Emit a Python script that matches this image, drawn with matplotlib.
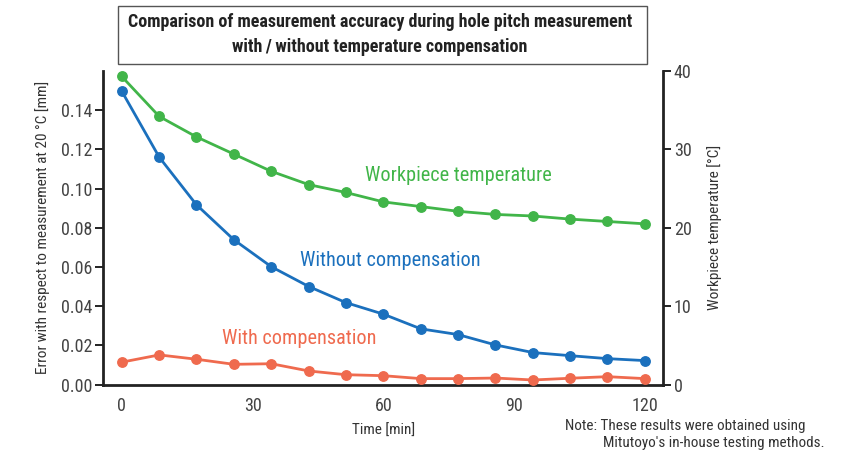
import matplotlib
matplotlib.use("Agg")
import matplotlib.pyplot as plt
from matplotlib import font_manager
from matplotlib.patches import Rectangle

# ---- data ----
time_min = [0, 8.6, 17.1, 25.7, 34.3, 42.9, 51.4, 60, 68.6, 77.1, 85.7, 94.3, 102.9, 111.4, 120]
without_comp = [0.1497, 0.1160, 0.0918, 0.0739, 0.0601, 0.0500, 0.0418, 0.0359,
                0.0284, 0.0255, 0.0202, 0.0163, 0.0147, 0.0132, 0.0122]
with_comp = [0.0114, 0.0151, 0.0129, 0.0103, 0.0106, 0.0069, 0.0050, 0.0045,
             0.0030, 0.0030, 0.0033, 0.0023, 0.0032, 0.0040, 0.0030]
workpiece_temp = [39.3, 34.2, 31.6, 29.4, 27.2, 25.5, 24.5, 23.3, 22.7, 22.1,
                  21.7, 21.5, 21.1, 20.8, 20.5]
x_ticks = [0, 30, 60, 90, 120]
y_ticks = [0.00, 0.02, 0.04, 0.06, 0.08, 0.10, 0.12, 0.14]
y2_ticks = [0, 10, 20, 30, 40]

# ---- fonts ----
avail = {f.name for f in font_manager.fontManager.ttflist}
fam = None
for cand in ["Liberation Sans Narrow", "Roboto Condensed", "Open Sans Condensed", "Noto Sans"]:
    if cand in avail:
        fam = cand
        break
if fam is None:
    fam = "DejaVu Sans"
plt.rcParams['font.family'] = [fam, 'DejaVu Sans']

GREEN = "#41b549"
BLUE = "#1b70bd"
ORANGE = "#ef6a4e"
TXT = "#333333"
SPINE = "#222222"

W, H = 843, 455
fig = plt.figure(figsize=(W / 100, H / 100), dpi=100)
L, R, T, B = 103, 663.3, 71, 384.5
ax = fig.add_axes([L / W, 1 - B / H, (R - L) / W, (B - T) / H])
ax2 = ax.twinx()
ax2.patch.set_visible(False)

ax.set_xlim(-4.3, 124.2)
ax.set_ylim(0, 0.16)
ax2.set_ylim(0, 40)

lw = 2.0
ms = 6.8
ax.plot(time_min, without_comp, color=BLUE, lw=lw, marker='o', ms=ms, zorder=3)
ax.plot(time_min, with_comp, color=ORANGE, lw=lw, marker='o', ms=ms, zorder=3)
ax2.plot(time_min, workpiece_temp, color=GREEN, lw=lw, marker='o', ms=ms, zorder=3)

for a in (ax, ax2):
    for s in a.spines.values():
        s.set_visible(False)
ax.spines['left'].set_visible(True)
ax.spines['bottom'].set_visible(True)
ax2.spines['right'].set_visible(True)
for s in (ax.spines['left'], ax.spines['bottom'], ax2.spines['right']):
    s.set_color(SPINE)
    s.set_linewidth(2.0)

ax.set_xticks(x_ticks)
ax.set_xticklabels([str(v) for v in x_ticks])
ax.set_yticks(y_ticks)
ax.set_yticklabels([f"{v:.2f}" for v in y_ticks])
ax2.set_yticks(y2_ticks)
ax2.set_yticklabels([str(v) for v in y2_ticks])

ax.tick_params(axis='x', length=0, pad=9, labelsize=13, labelcolor="#444444")
ax.tick_params(axis='y', direction='out', length=6, width=1.4, color=SPINE,
               pad=1.5, labelsize=13, labelcolor="#444444")
ax2.tick_params(axis='y', direction='out', length=6, width=1.4, color=SPINE,
                pad=1.5, labelsize=13, labelcolor="#444444")

ax.set_xlabel("Time [min]", fontsize=11, color=TXT, labelpad=6)
ax.set_ylabel("Error with respect to measurement at 20 °C [mm]", fontsize=11,
              color=TXT, labelpad=8)
ax2.set_ylabel("Workpiece temperature [°C]", fontsize=11, color=TXT, labelpad=11)

# series labels
ax.text(55.7, 0.1066, "Workpiece temperature", color=GREEN, fontsize=14.6,
        ha='left', va='center')
ax.text(40.8, 0.0631, "Without compensation", color=BLUE, fontsize=14.6,
        ha='left', va='center')
ax.text(23.0, 0.0233, "With compensation", color=ORANGE, fontsize=14.6,
        ha='left', va='center')

# title box
bx0, by0, bx1, by1 = 118, 6, 647, 64
fig.patches.append(Rectangle((bx0 / W, 1 - by1 / H), (bx1 - bx0) / W, (by1 - by0) / H,
                             transform=fig.transFigure, fill=False,
                             edgecolor="#555555", lw=1.0))
fig.text(380 / W, 1 - 22 / H,
         "Comparison of measurement accuracy during hole pitch measurement",
         ha='center', va='center', fontsize=12.95, fontweight='bold', color="#222222")
fig.text(380 / W, 1 - 47 / H,
         "with\u2009/\u2009without temperature compensation",
         ha='center', va='center', fontsize=12.95, fontweight='bold', color="#222222")

# note
fig.text(565 / W, 1 - 426 / H, "Note: These results were obtained using",
         ha='left', va='center', fontsize=10.9, color=TXT)
fig.text(603 / W, 1 - 443 / H, "Mitutoyo's in-house testing methods.",
         ha='left', va='center', fontsize=10.9, color=TXT)

fig.savefig("out.png", dpi=100)
